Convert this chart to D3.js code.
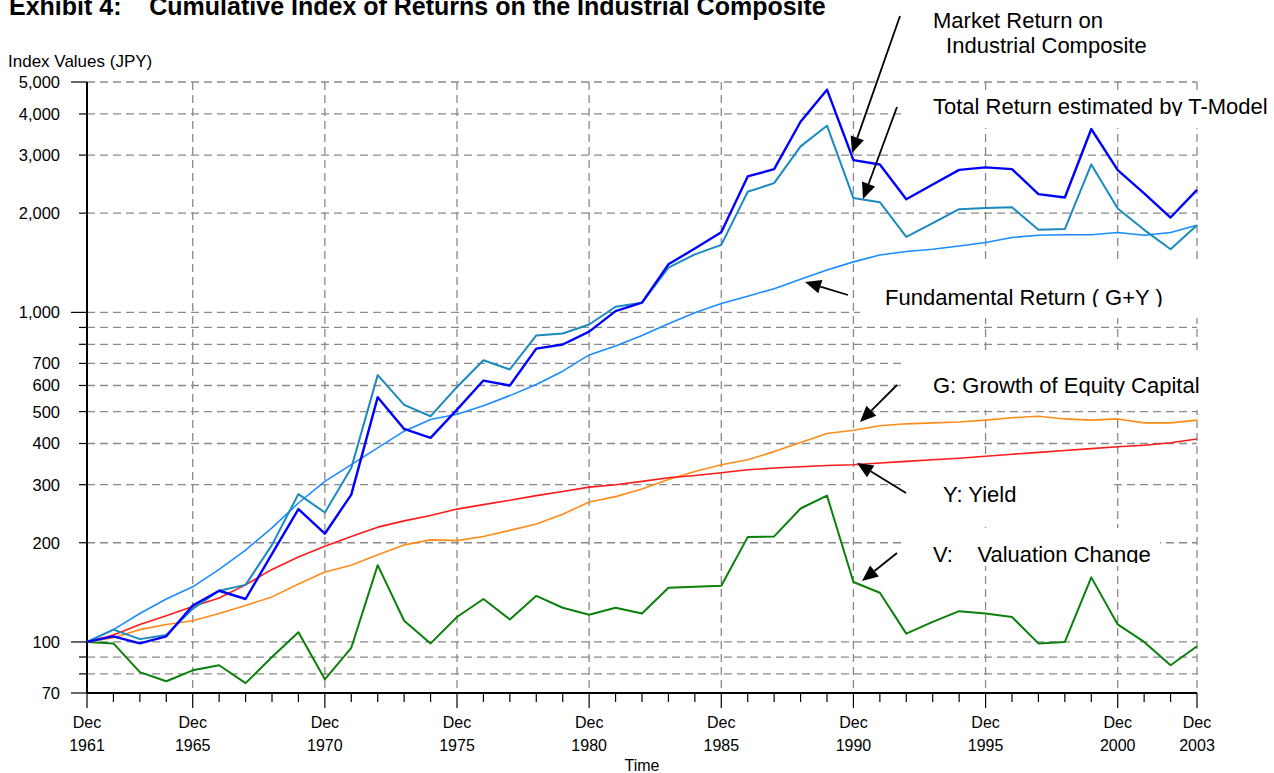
<!DOCTYPE html>
<html><head><meta charset="utf-8">
<script src="https://cdn.jsdelivr.net/npm/d3@7"></script>
<style>html,body{margin:0;padding:0;background:#fff;} svg{display:block;font-family:"Liberation Sans",Arial,Helvetica,sans-serif;}</style>
</head><body><svg id="c" width="1274" height="773"></svg>
<script>
const years = [1961,1962,1963,1964,1965,1966,1967,1968,1969,1970,1971,1972,1973,1974,1975,1976,1977,1978,1979,1980,1981,1982,1983,1984,1985,1986,1987,1988,1989,1990,1991,1992,1993,1994,1995,1996,1997,1998,1999,2000,2001,2002,2003];
const marketReturn = [100,104,99,104,129,143,135,185,253,213,280,553,443,416,507,621,600,776,799,874,1009,1070,1399,1562,1750,2585,2720,3788,4740,2897,2810,2205,2444,2707,2754,2720,2285,2232,3600,2702,2295,1940,2353];
const totalReturnTModel = [100,109,102,105,126,143,149,197,281,247,337,645,524,484,594,716,671,851,863,919,1040,1070,1367,1500,1602,2322,2466,3189,3685,2222,2160,1694,1864,2056,2075,2085,1780,1790,2811,2066,1780,1554,1838];
const fundamentalReturn = [100,109,122,135,147,166,190,222,264,307,345,388,436,473,491,521,559,604,663,743,790,851,924,998,1064,1120,1180,1260,1345,1423,1493,1530,1554,1590,1629,1687,1714,1720,1720,1747,1714,1747,1838];
const growthG = [100,103,109,113,116,122,129,137,150,163,171,184,197,204,203,209,218,228,244,266,276,291,311,329,345,357,378,403,429,439,453,459,462,465,471,479,484,475,471,475,462,462,471];
const yieldY = [100,105,113,120,128,136,149,166,181,195,209,223,233,242,253,261,269,278,286,295,300,307,315,320,326,333,337,340,343,345,349,353,357,361,366,371,376,381,386,391,395,402,413];
const valuationV = [100,99,81,76,82,85,75,90,107,77,96,171,116,99,119,135,117,138,127,121,127,122,146,147,148,208,209,254,278,152,141,106,115,124,122,119,99,100,157,113,100,85,97];

const yTickLabels = [5000,4000,3000,2000,1000,700,600,500,400,300,200,100,70];
const yGridValues = [5000,4000,3000,2000,1000,900,800,700,600,500,400,300,200,100,90,80];
const yLongTicks = [5000,1000,100,70];
const xLabelYears = [1961,1965,1970,1975,1980,1985,1990,1995,2000,2003];

const titleText = "Exhibit 4:    Cumulative Index of Returns on the Industrial Composite";
const yAxisTitle = "Index Values (JPY)";
const xAxisTitle = "Time";

const svg = d3.select("#c");
const x = d3.scaleLinear().domain([1961, 2003]).range([87, 1197]);
const y = d3.scaleLog().domain([70, 5000]).range([693, 82]);

// title
svg.append("text").attr("x", 9).attr("y", 15).attr("font-size", 25).attr("font-weight", "bold")
  .attr("xml:space","preserve").style("white-space","pre").text(titleText);
svg.append("text").attr("x", 8).attr("y", 67).attr("font-size", 17).text(yAxisTitle);

const grid = svg.append("g").attr("stroke", "#8a8a8a").attr("stroke-width", 1.3).attr("stroke-dasharray", "8,5");
grid.selectAll("line.h").data(yGridValues).join("line").attr("class","h")
  .attr("x1", x(1961)).attr("x2", x(2003)).attr("y1", d => y(d)).attr("y2", d => y(d));
grid.selectAll("line.v").data(xLabelYears.filter(d => d !== 1961)).join("line").attr("class","v")
  .attr("x1", d => x(d)).attr("x2", d => x(d)).attr("y1", y(5000)).attr("y2", y(70));

// white label boxes covering grid
const boxes = [
  [905, 90, 369, 38],
  [860, 264, 414, 54],
  [905, 352, 369, 58],
  [905, 457, 205, 70],
  [905, 528, 255, 38]
];
svg.append("g").selectAll("rect").data(boxes).join("rect")
  .attr("x", d => d[0]).attr("y", d => d[1]).attr("width", d => d[2]).attr("height", d => d[3]).attr("fill", "#fff");

// axes
const axisG = svg.append("g").attr("stroke", "#000");
axisG.append("line").attr("x1", x(1961)).attr("x2", x(1961)).attr("y1", y(5000)).attr("y2", y(70)).attr("stroke-width", 2);
axisG.append("line").attr("x1", x(1961)).attr("x2", x(2003)).attr("y1", y(70)).attr("y2", y(70)).attr("stroke-width", 2);
axisG.selectAll("line.yt").data(yGridValues.concat([70])).join("line").attr("class","yt")
  .attr("x1", d => x(1961) - (yLongTicks.includes(d) ? 16 : 8)).attr("x2", x(1961))
  .attr("y1", d => y(d)).attr("y2", d => y(d)).attr("stroke-width", 1.2);
axisG.selectAll("line.xt").data(years).join("line").attr("class","xt")
  .attr("x1", d => x(d)).attr("x2", d => x(d)).attr("y1", y(70))
  .attr("y2", d => y(70) + (xLabelYears.includes(d) ? 15 : 9)).attr("stroke-width", 1.2);

svg.append("g").selectAll("text").data(yTickLabels).join("text")
  .attr("x", 60).attr("y", d => y(d)).attr("dy", "0.36em").attr("text-anchor", "end").attr("font-size", 16.5)
  .text(d => d3.format(",")(d));

const xl = svg.append("g").selectAll("g").data(xLabelYears).join("g").attr("transform", d => `translate(${x(d)},0)`);
xl.append("text").attr("y", 728).attr("text-anchor", "middle").attr("font-size", 16).text("Dec");
xl.append("text").attr("y", 751).attr("text-anchor", "middle").attr("font-size", 16).text(d => d);
svg.append("text").attr("x", (x(1961)+x(2003))/2).attr("y", 771).attr("text-anchor", "middle").attr("font-size", 16).text(xAxisTitle);

// series
const series = [
  {name:"V", values: valuationV, color:"#0b800b", w:2},
  {name:"G", values: growthG, color:"#ff8c1a", w:1.6},
  {name:"Y", values: yieldY, color:"#ff1a1a", w:1.6},
  {name:"F", values: fundamentalReturn, color:"#1a8cff", w:1.6},
  {name:"T", values: totalReturnTModel, color:"#1a8abf", w:2},
  {name:"M", values: marketReturn, color:"#0000ff", w:2.4}
];
const line = d3.line().x((d,i) => x(years[i])).y(d => y(d));
svg.append("g").selectAll("path").data(series).join("path")
  .attr("d", d => line(d.values)).attr("fill", "none")
  .attr("stroke", d => d.color).attr("stroke-width", d => d.w).attr("stroke-linejoin", "round");

// annotations
const defs = svg.append("defs");
const clips = [["clipT", 0, 116], ["clipF", 0, 307], ["clipG", 0, 396], ["clipV", 0, 563]];
clips.forEach(c => defs.append("clipPath").attr("id", c[0]).append("rect").attr("x", 0).attr("y", c[1]).attr("width", 1274).attr("height", c[2]));
const labels = [
  {t:"Market Return on", x:933, y:28, clip:null},
  {t:" Industrial Composite", x:940, y:53, clip:null},
  {t:"Total Return estimated by T-Model", x:933, y:114, clip:"clipT"},
  {t:"Fundamental Return ( G+Y )", x:885, y:305, clip:"clipF"},
  {t:"G: Growth of Equity Capital", x:933, y:393, clip:"clipG"},
  {t:"Y: Yield", x:943, y:502, clip:null},
  {t:"V:    Valuation Change", x:933, y:562, clip:"clipV"}
];
svg.append("g").selectAll("text").data(labels).join("text")
  .attr("x", d => d.x).attr("y", d => d.y).attr("font-size", 22)
  .attr("xml:space","preserve").style("white-space","pre")
  .attr("clip-path", d => d.clip ? `url(#${d.clip})` : null).text(d => d.t);

const arrows = [
  [900, 16, 852, 153],
  [897, 107, 863, 199],
  [848, 295, 805, 282],
  [897, 385, 860, 422],
  [906, 493, 857, 463],
  [897, 553, 862, 581]
];
const ag = svg.append("g");
arrows.forEach(a => {
  const [x1,y1,x2,y2] = a;
  const dx = x2-x1, dy = y2-y1, L = Math.hypot(dx,dy), ux = dx/L, uy = dy/L;
  const hl = 16, hw = 7;
  const bx = x2 - ux*hl, by = y2 - uy*hl;
  ag.append("line").attr("x1", x1).attr("y1", y1).attr("x2", bx).attr("y2", by).attr("stroke", "#000").attr("stroke-width", 1.8);
  ag.append("polygon").attr("points", `${x2},${y2} ${bx - uy*hw},${by + ux*hw} ${bx + uy*hw},${by - ux*hw}`).attr("fill", "#000");
});
</script></body></html>
